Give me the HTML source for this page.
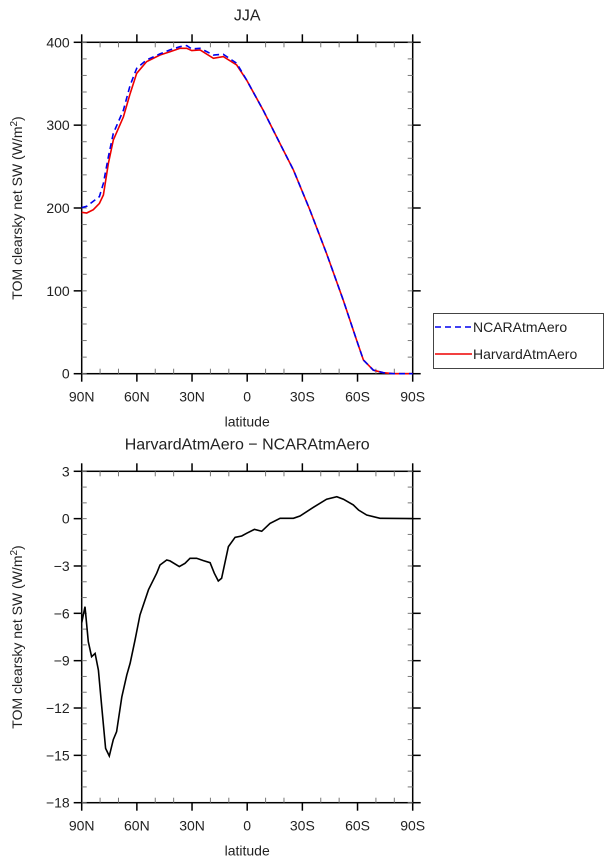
<!DOCTYPE html>
<html><head><meta charset="utf-8"><style>
html,body{margin:0;padding:0;background:#fff;}
svg{display:block;font-family:"Liberation Sans",sans-serif;}
text{fill:#222;}
</style></head><body>
<svg id="chart" width="610" height="862" viewBox="0 0 610 862" xmlns="http://www.w3.org/2000/svg">
<g id="top"></g>
<g id="bot"></g>
<g id="legend">
  <rect x="433.5" y="313.5" width="170" height="55" fill="#fff" stroke="#444" stroke-width="1"/>
  <line x1="435" y1="327" x2="472" y2="327" stroke="#0000ee" stroke-width="1.5" stroke-dasharray="6,4"/>
  <text x="473" y="332" font-size="14">NCARAtmAero</text>
  <line x1="435" y1="354" x2="472" y2="354" stroke="#ee0000" stroke-width="1.5"/>
  <text x="473" y="359" font-size="14">HarvardAtmAero</text>
</g>
</svg>
<script>
const xTickVals = [90, 60, 30, 0, -30, -60, -90];
const xTickLabels = ["90N", "60N", "30N", "0", "30S", "60S", "90S"];
const topYTicks = [0, 100, 200, 300, 400];
const botYTicks = [3, 0, -3, -6, -9, -12, -15, -18];
const latHarvard = [90,87.3,83.7,80.4,78.2,75.5,72.8,67.3,63.7,60.1,54.7,47.4,42.0,36.5,32.9,30.2,25.6,18.4,13.0,5.7,0.3,-8.7,-17.8,-25.1,-34.1,-43.2,-52.2,-59.5,-63.2,-68.6,-74.0,-79.5,-90];
const harvard = [194.8,194,198,205.6,215.7,254,282,310,338,362.6,376.7,384.7,388.7,392.8,392.8,390,390.8,380.7,382.7,372.6,354.5,318,278,246,197.6,145,89,40.6,16.5,4.4,1.2,0,0];
const latNcar = [90,87.3,80.4,78.2,75.5,72.8,67.3,63.7,60.1,54.7,47.4,42.0,36.5,32.9,30.2,25.6,18.4,13.0,5.7,0.3,-8.7,-17.8,-25.1,-34.1,-43.2,-52.2,-59.5,-63.2,-68.6,-74.0,-79.5,-90];
const ncar = [200.4,202,213.7,229.8,262,290,318,348,368.6,378.7,386,390.8,394.8,396,392,392.8,384.7,385.5,374.6,354.5,318,278,246,197.6,145,89,40.6,16.5,4.4,1.2,0,0];
const latDiff = [90,88.2,86.4,84.6,82.7,80.9,79.1,77.0,75.0,72.8,71.0,68.2,65.5,63.7,61.0,58.3,53.7,49.2,47.4,43.8,42.0,36.9,33.8,31.1,27.5,23.8,20.2,17.9,15.7,13.9,10.2,6.6,3.0,0.3,-3.9,-7.9,-12.4,-17.9,-25.1,-28.7,-36.0,-43.2,-48.7,-52.3,-57.7,-60.5,-65.0,-72.2,-90];
const diff = [-6.6,-5.58,-7.8,-8.75,-8.54,-9.6,-11.9,-14.56,-15.04,-14.0,-13.5,-11.3,-9.9,-9.17,-7.7,-6.1,-4.5,-3.46,-2.94,-2.62,-2.68,-3.04,-2.83,-2.51,-2.51,-2.66,-2.79,-3.46,-3.95,-3.78,-1.77,-1.18,-1.1,-0.93,-0.68,-0.8,-0.3,0.02,0.02,0.17,0.72,1.23,1.39,1.23,0.87,0.55,0.23,0.02,0];

const NS = "http://www.w3.org/2000/svg";
const L = 81.7, R = 412.7;
function xs(lat){ return L + (90 - lat) / 180 * (R - L); }
function mk(tag, attrs, parent){ const e = document.createElementNS(NS, tag); for (const k in attrs) e.setAttribute(k, attrs[k]); parent.appendChild(e); return e; }

function panel(g, top, bot, ymin, ymax, yTicks, minorStep, title, pfx){
  const ys = v => bot - (v - ymin) / (ymax - ymin) * (bot - top);
  const frame = mk("rect", {x:L, y:top, width:R-L, height:bot-top, fill:"none", stroke:"#000", "stroke-width":1.5}, g);
  
  
  // minor x ticks
  for (let lat = 90; lat >= -90; lat -= 10) {
    const x = xs(lat);
    if (lat % 30 === 0) {
      mk("line", {x1:x, y1:bot, x2:x, y2:bot+8, stroke:"#000", "stroke-width":1.5}, g);
      mk("line", {x1:x, y1:top, x2:x, y2:top-8, stroke:"#000", "stroke-width":1.5}, g);
    } else {
      mk("line", {x1:x, y1:bot, x2:x, y2:bot-5, stroke:"#777", "stroke-width":1}, g);
      mk("line", {x1:x, y1:top, x2:x, y2:top+5, stroke:"#777", "stroke-width":1}, g);
    }
  }
  for (let v = ymin; v <= ymax + 1e-9; v += minorStep) {
    const y = ys(v);
    mk("line", {x1:L, y1:y, x2:L+5, y2:y, stroke:"#777", "stroke-width":1}, g);
    mk("line", {x1:R, y1:y, x2:R-5, y2:y, stroke:"#777", "stroke-width":1}, g);
  }
  yTicks.forEach(v => {
    const y = ys(v);
    mk("line", {x1:L-8, y1:y, x2:L, y2:y, stroke:"#000", "stroke-width":1.5}, g);
    mk("line", {x1:R, y1:y, x2:R+8, y2:y, stroke:"#000", "stroke-width":1.5}, g);
    const t = mk("text", {x:L-12, y:y+5, "font-size":14, "text-anchor":"end"}, g);
    t.textContent = v < 0 ? "\u2212" + Math.abs(v) : String(v);
    
    
  });
  xTickVals.forEach((lat, i) => {
    const t = mk("text", {x:xs(lat), y:bot+28, "font-size":14, "text-anchor":"middle"}, g);
    t.textContent = xTickLabels[i];
    
    
  });
  const xt = mk("text", {x:(L+R)/2, y:bot+53, "font-size":14, "text-anchor":"middle"}, g);
  xt.textContent = "latitude";
  
  
  const cy = (top+bot)/2;
  const yt = mk("text", {x:22, y:cy, "font-size":14, "text-anchor":"middle", transform:"rotate(-90 22 "+cy+")"}, g);
  yt.innerHTML = 'TOM clearsky net SW (W/m<tspan font-size="10" dy="-5">2</tspan><tspan dy="5">)</tspan>';
  
  
  const tt = mk("text", {x:(L+R)/2, y:top-22, "font-size":16, "text-anchor":"middle"}, g);
  tt.textContent = title;
  
  
  return ys;
}
function line(g, lats, vals, ys, attrs, name){
  const d = lats.map((la, i) => (i ? "L" : "M") + xs(la).toFixed(1) + "," + ys(vals[i]).toFixed(1)).join(" ");
  const p = mk("path", Object.assign({d:d, fill:"none"}, attrs), g);
  
  
}
const gt = document.getElementById("top"), gb = document.getElementById("bot");
const ysT = panel(gt, 42.3, 373.7, 0, 400, topYTicks, 20, "JJA", "top");
line(gt, latHarvard, harvard, ysT, {stroke:"#ee0000", "stroke-width":1.6}, "series-harvard");
line(gt, latNcar, ncar, ysT, {stroke:"#0000ee", "stroke-width":1.6, "stroke-dasharray":"6,4"}, "series-ncar");
const ysB = panel(gb, 471.3, 802.7, -18, 3, botYTicks, 1, "HarvardAtmAero \u2212 NCARAtmAero", "bottom");
line(gb, latDiff, diff, ysB, {stroke:"#000", "stroke-width":1.6}, "series-difference");
</script>
</body></html>
